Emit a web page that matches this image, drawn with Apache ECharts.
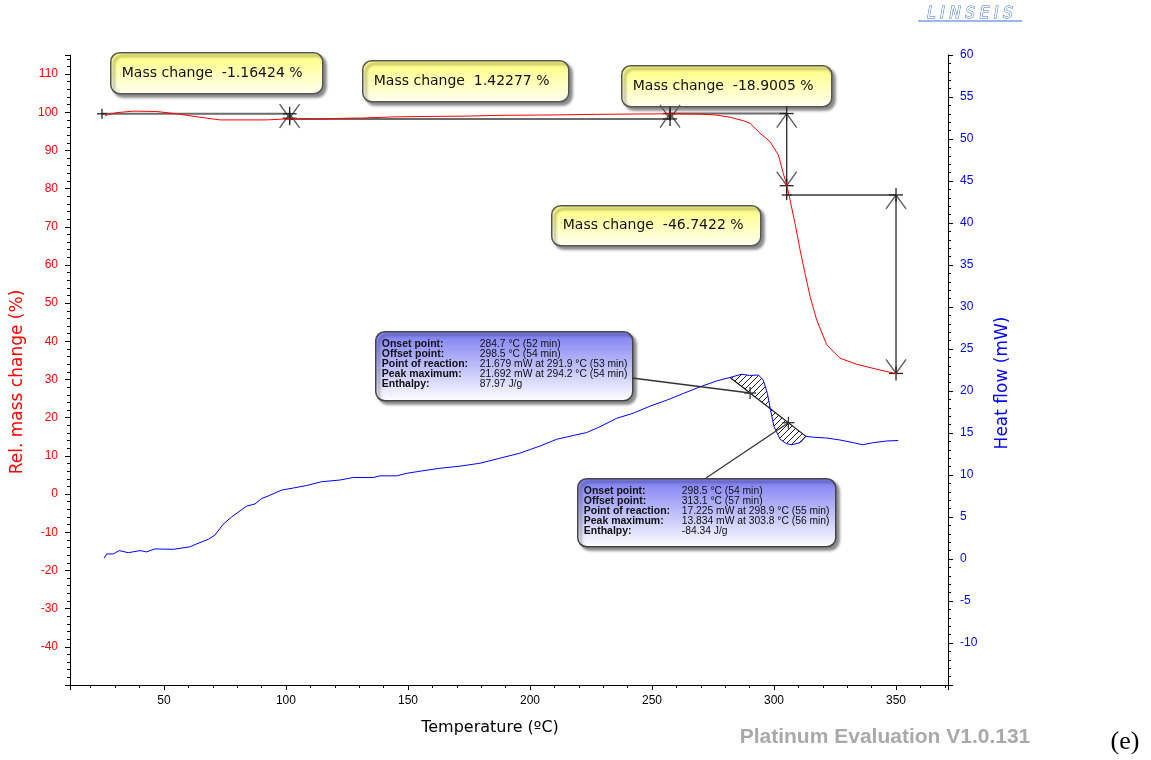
<!DOCTYPE html>
<html><head><meta charset="utf-8">
<script src="https://cdn.jsdelivr.net/npm/echarts@6/dist/echarts.min.js"></script>
<style>html,body{margin:0;padding:0;background:#fff}#c{width:1151px;height:760px}</style>
</head><body><div id="c"></div>
<script>
// ---- data ----
const massTemp = [25.8,27,30.6,37.4,47,55.2,64.8,73,92.1,101.4,112.6,122.1,131.6,145,157,175,187.7,210,226.6,245,257.4,270,276,282,287.4,290.2,294.3,298.4,301.8,303.8,305.2,306.6,308.6,310.7,312.7,314.8,317.5,321.6,327,333.9,342.1,349.6,350.5];
const massValue = [99.0,99.4,99.9,100.3,100.2,99.6,98.7,98.0,98.0,98.3,98.2,98.4,98.5,98.8,98.9,99.0,99.2,99.3,99.45,99.55,99.6,99.5,99.3,98.7,97.8,97.1,94.5,92.3,88.8,84.0,81.0,77.0,70.9,63.9,57.8,51.7,45.6,39.1,35.6,34.0,32.7,31.6,31.5];
const heatTemp = [25.5,26.5,29.2,31.7,35.4,40.2,42.9,46.3,53.8,60.7,63.4,68.2,70.9,74.3,77.7,83.9,87.3,90.0,92.7,98.2,103,108.5,114.6,122.1,127.6,135.8,138.5,145.4,149.5,154.9,163.1,171.3,179.5,187.7,195.9,204.1,210.9,217.7,223.2,228.7,235.5,242.3,249.2,256,262.8,269.7,276.5,281.9,286.7,290,293.6,295.6,297.3,298.6,300,302.5,305,307.2,310.7,313.1,316.1,321.6,327,332.5,336.3,340.7,346.2,350.9];
const heatValue = [0.08,0.6,0.6,1.0,0.75,1.0,0.85,1.2,1.15,1.45,1.8,2.35,2.85,4.15,5.0,6.3,6.55,7.2,7.5,8.2,8.45,8.75,9.2,9.4,9.7,9.7,9.9,9.9,10.2,10.45,10.8,11.05,11.4,12.0,12.6,13.45,14.25,14.7,15.05,15.75,16.75,17.35,18.2,18.9,19.7,20.5,21.2,21.6,22.0,21.85,21.9,21.3,19.7,17.7,15.75,14.25,13.75,13.6,13.85,14.6,14.5,14.4,14.17,13.85,13.6,13.85,14.05,14.1];

const stepStartTemp = [24.6, 101.5, 257.4, 305.2];
const stepEndTemp = [101.5, 257.4, 305.2, 350.0];
const stepStartMass = [99.6, 98.25, 99.67, 78.34];
const stepChange = [-1.16424, 1.42277, -18.9005, -46.7422];

const peakBaselineTemp = [282, 313.1];
const peakMarkerTemp = [290.2, 305.9];
const peakLabels = ['Onset point:', 'Offset point:', 'Point of reaction:', 'Peak maximum:', 'Enthalpy:'];
const peak1Values = ['284.7 \u00B0C (52 min)', '298.5 \u00B0C (54 min)', '21.679 mW at 291.9 \u00B0C (53 min)', '21.692 mW at 294.2 \u00B0C (54 min)', '87.97 J/g'];
const peak2Values = ['298.5 \u00B0C (54 min)', '313.1 \u00B0C (57 min)', '17.225 mW at 298.9 \u00B0C (55 min)', '13.834 mW at 303.8 \u00B0C (56 min)', '-84.34 J/g'];

const xAxisTitle = 'Temperature (\u00BAC)';
const leftAxisTitle = 'Rel. mass change (%)';
const rightAxisTitle = 'Heat flow (mW)';

// ---- layout (pixels) ----
const massBoxLayout = [[110,52,212,41],[362,60,206,41],[621,65,210,41],[551,205,209,40]];
const peakBoxLayout = [[375,331,257,69],[577,478,258,68]];
const peakBoxAnchor = [[632,378],[706,478]];

function interp(xs, ys, x){
  for (let i=1;i<xs.length;i++){ if (x<=xs[i]) { const f=(x-xs[i-1])/(xs[i]-xs[i-1]); return ys[i-1]+f*(ys[i]-ys[i-1]); } }
  return ys[ys.length-1];
}

// hatch pattern
const pat = document.createElement('canvas');
pat.width = 6; pat.height = 6;
(function(){ const g=pat.getContext('2d'); g.strokeStyle='#222'; g.lineWidth=1;
  g.beginPath(); g.moveTo(-1,7); g.lineTo(7,-1); g.moveTo(-1,1); g.lineTo(1,-1); g.moveTo(5,7); g.lineTo(7,5); g.stroke(); })();

const chart = echarts.init(document.getElementById('c'), null, {renderer:'canvas'});

const graphics = [];
massBoxLayout.forEach((b,i)=>{
  graphics.push({type:'group', left:b[0], top:b[1], z:50, children:[
    {type:'rect', shape:{x:0,y:0,width:b[2],height:b[3],r:9},
     style:{fill:{type:'linear',x:0,y:0,x2:0,y2:1,colorStops:[{offset:0,color:'#ffff7c'},{offset:1,color:'#fffff2'}]},
       stroke:'#555', lineWidth:1.5, shadowBlur:3, shadowColor:'rgba(0,0,0,0.45)', shadowOffsetX:3, shadowOffsetY:3}},
    {type:'text', x:11, y:b[3]/2, style:{text:'Mass change  ' + stepChange[i] + ' %', font:'14px "DejaVu Sans"', fill:'#111', verticalAlign:'middle'}}
  ]});
});
[peak1Values, peak2Values].forEach((vals,k)=>{
  const b = peakBoxLayout[k];
  const ch = [{type:'rect', shape:{x:0,y:0,width:b[2],height:b[3],r:9},
     style:{fill:{type:'linear',x:0,y:0,x2:0,y2:1,colorStops:[{offset:0,color:'#7c7cf4'},{offset:1,color:'#ffffff'}]},
       stroke:'#444', lineWidth:1.5, shadowBlur:3, shadowColor:'rgba(0,0,0,0.45)', shadowOffsetX:3, shadowOffsetY:3}}];
  peakLabels.forEach((lab,j)=>{
    ch.push({type:'text', x:6, y:12+j*10.2, style:{text:lab, font:'bold 10.5px "Liberation Sans"', fill:'#111', verticalAlign:'middle'}});
    ch.push({type:'text', x:104, y:12+j*10.2, style:{text:vals[j], font:'10.3px "Liberation Sans"', fill:'#111', verticalAlign:'middle'}});
  });
  graphics.push({type:'group', left:b[0], top:b[1], z:50, children:ch});
});
graphics.push({type:'text', x:18, y:382, rotation:Math.PI/2, z:40, style:{text:leftAxisTitle, font:'17px "DejaVu Sans"', fill:'#ff0000', align:'center', verticalAlign:'middle'}});
graphics.push({type:'text', x:1003, y:383, rotation:Math.PI/2, z:40, style:{text:rightAxisTitle, font:'17px "DejaVu Sans"', fill:'#0000ff', align:'center', verticalAlign:'middle'}});
graphics.push({type:'text', x:490, y:728, z:40, style:{text:xAxisTitle, font:'16px "DejaVu Sans"', fill:'#000', align:'center', verticalAlign:'middle'}});
graphics.push({type:'text', x:885, y:737, z:40, style:{text:'Platinum Evaluation V1.0.131', font:'bold 21px "Liberation Sans"', fill:'#a9a9a9', align:'center', verticalAlign:'middle'}});
graphics.push({type:'text', x:1125, y:742, z:40, style:{text:'(e)', font:'26px "Liberation Serif"', fill:'#000', align:'center', verticalAlign:'middle'}});
graphics.push({type:'text', x:970, y:14, z:40, style:{text:'L I N S E I S', font:'italic 15px "DejaVu Sans"', fill:'#ffffff', stroke:'#3b6fd0', lineWidth:1, align:'center', verticalAlign:'middle'}});
graphics.push({type:'line', z:40, shape:{x1:918,y1:21,x2:1022,y2:21}, style:{stroke:'#3b6fd0', lineWidth:1}});

const stepData = stepStartTemp.map((t,i)=>[t, stepEndTemp[i], stepStartMass[i], stepStartMass[i]+stepChange[i]]);

function ln(a,b,w,c){ return {type:'line', shape:{x1:a[0],y1:a[1],x2:b[0],y2:b[1]}, style:{stroke:c||'#333', lineWidth:w||1.2}}; }
function plus(p,s,c){ return [ln([p[0]-s,p[1]],[p[0]+s,p[1]],1.3,c||'#222'), ln([p[0],p[1]-s],[p[0],p[1]+s],1.3,c||'#222')]; }

const option = {
  animation:false,
  grid:{left:70, right:203, top:55, bottom:75, containLabel:false},
  xAxis:{type:'value', min:11.5, max:371.3, splitNumber:7, minInterval:50, maxInterval:50,
    axisLine:{show:true, onZero:false, lineStyle:{color:'#000', width:1}},
    axisTick:{show:true, length:5, lineStyle:{color:'#000'}},
    minorTick:{show:true, splitNumber:5, length:3, lineStyle:{color:'#000'}},
    splitLine:{show:false}, minorSplitLine:{show:false},
    axisLabel:{color:'#000', fontSize:12, fontFamily:'Liberation Sans', margin:10, showMinLabel:false, showMaxLabel:false}},
  yAxis:[
    {type:'value', position:'left', min:-50, max:115, interval:10,
     axisLine:{show:true, onZero:false, lineStyle:{color:'#000'}},
     axisTick:{show:true, length:5, lineStyle:{color:'#000'}},
     minorTick:{show:true, splitNumber:5, length:3, lineStyle:{color:'#000'}},
     splitLine:{show:false}, minorSplitLine:{show:false},
     axisLabel:{color:'#ff0000', fontSize:12, fontFamily:'Liberation Sans', margin:12, showMinLabel:false, showMaxLabel:false}},
    {type:'value', position:'right', min:-15, max:60, interval:5,
     axisLine:{show:true, onZero:false, lineStyle:{color:'#000'}},
     axisTick:{show:true, length:5, lineStyle:{color:'#000'}},
     minorTick:{show:true, splitNumber:5, length:3, lineStyle:{color:'#000'}},
     splitLine:{show:false}, minorSplitLine:{show:false},
     axisLabel:{color:'#0000ff', fontSize:12, fontFamily:'Liberation Sans', margin:12, showMinLabel:false, showMaxLabel:true}}
  ],
  graphic: graphics,
  series:[
    {type:'custom', name:'hatch', yAxisIndex:1, z:1, silent:true, data:[[peakBaselineTemp[0], peakBaselineTemp[1]]],
     encode:{x:[0,1]},
     renderItem:function(params, api){
       const t0=peakBaselineTemp[0], t1=peakBaselineTemp[1];
       const v0=interp(heatTemp,heatValue,t0), v1=interp(heatTemp,heatValue,t1);
       const pts=[api.coord([t0,v0])];
       heatTemp.forEach((t,i)=>{ if(t>t0 && t<t1) pts.push(api.coord([t,heatValue[i]])); });
       pts.push(api.coord([t1,v1]));
       return {type:'group', children:[
         {type:'polygon', shape:{points:pts}, style:{fill:{image:pat, repeat:'repeat'}, stroke:null}},
         ln(api.coord([t0,v0]), api.coord([t1,v1]), 1.2, '#111')
       ]};
     }},
    {type:'custom', name:'steps', yAxisIndex:0, z:2, silent:true, data:stepData, encode:{x:[0,1], y:[2,3]},
     renderItem:function(params, api){
       const t0=api.value(0), t1=api.value(1), m0=api.value(2), m1=api.value(3);
       const p0=api.coord([t0,m0]), p1=api.coord([t1,m0]), p2=api.coord([t1,m1]);
       const ch=[ln(p0,p1,2,'#6b6b6b'), ln(p1,p2,1.3,'#2a2a2a')];
       const head=(a,o)=>{ const d=o[1]>a[1]?1:-1; return [ln(a,[a[0]-10,a[1]+d*14],1.3,'#555'), ln(a,[a[0]+10,a[1]+d*14],1.3,'#555')]; };
       ch.push(...head(p1,p2), ...head(p2,p1));
       ch.push(...plus(p0,5), ...plus(p1,7), ...plus(p2,7));
       return {type:'group', children:ch};
     }},
    {type:'line', name:'mass', yAxisIndex:0, z:3, showSymbol:false, symbol:'none', silent:true,
     data:massTemp.map((t,i)=>[t,massValue[i]]), lineStyle:{color:'#ff0000', width:1}},
    {type:'line', name:'heat', yAxisIndex:1, z:3, showSymbol:false, symbol:'none', silent:true,
     data:heatTemp.map((t,i)=>[t,heatValue[i]]), lineStyle:{color:'#0000ff', width:1}},
    {type:'custom', name:'peakMarkers', yAxisIndex:1, z:4, silent:true, data:peakMarkerTemp.map(t=>[t]), encode:{x:0},
     renderItem:function(params, api){
       const t=api.value(0), k=params.dataIndex;
       const t0=peakBaselineTemp[0], t1=peakBaselineTemp[1];
       const v0=interp(heatTemp,heatValue,t0), v1=interp(heatTemp,heatValue,t1);
       const v=v0+(t-t0)/(t1-t0)*(v1-v0);
       const p=api.coord([t,v]);
       return {type:'group', children:[ln(peakBoxAnchor[k], p, 1.3, '#333'), ...plus(p,6,'#333')]};
     }}
  ]
};
chart.setOption(option);
</script></body></html>
